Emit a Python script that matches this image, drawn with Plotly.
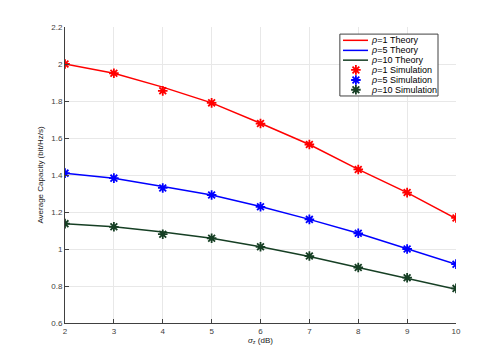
import plotly.graph_objects as go

# Data
sigma_z = [2, 3, 4, 5, 6, 7, 8, 9, 10]

theory_rho1 = [2.0, 1.95, 1.875, 1.79, 1.68, 1.565, 1.43, 1.305, 1.165]
theory_rho5 = [1.41, 1.383, 1.338, 1.292, 1.23, 1.16, 1.085, 1.0, 0.918]
theory_rho10 = [1.137, 1.12, 1.092, 1.058, 1.012, 0.96, 0.9, 0.843, 0.782]

sim_rho1 = [2.0, 1.95, 1.855, 1.79, 1.678, 1.565, 1.43, 1.305, 1.168]
sim_rho5 = [1.41, 1.383, 1.33, 1.292, 1.228, 1.16, 1.085, 1.0, 0.918]
sim_rho10 = [1.137, 1.12, 1.08, 1.058, 1.012, 0.962, 0.9, 0.845, 0.787]

legend_labels = ['<i>ρ</i>=1 Theory', '<i>ρ</i>=5 Theory', '<i>ρ</i>=10 Theory',
                 '<i>ρ</i>=1 Simulation', '<i>ρ</i>=5 Simulation', '<i>ρ</i>=10 Simulation']

red = '#ff0000'
blue = '#0000ff'
green = '#163f24'
colors = [red, blue, green]

xr = [2, 10]
yr = [0.6, 2.2]


def fx(f):
    # fraction of plot width -> x data value
    return xr[0] + f * (xr[1] - xr[0])


def fy(f):
    return yr[0] + f * (yr[1] - yr[0])


traces = []
for vals, col in zip([theory_rho1, theory_rho5, theory_rho10], colors):
    traces.append(go.Scatter(x=sigma_z, y=vals, mode='lines',
                             line=dict(color=col, width=1.5), showlegend=False))
for vals, col in zip([sim_rho1, sim_rho5, sim_rho10], colors):
    traces.append(go.Scatter(
        x=sigma_z, y=vals, mode='markers', showlegend=False,
        marker=dict(symbol='asterisk', size=8, color=col, line=dict(color=col, width=1.8))))

# hand-drawn compact legend (plotly's own legend rows are too tall)
box_x0, box_x1, box_y0, box_y1 = 0.703, 0.954, 0.767, 0.976
row_y = [0.955, 0.921, 0.888, 0.855, 0.821, 0.788]
shapes = [dict(type='rect', xref='x', yref='y', x0=fx(box_x0), x1=fx(box_x1),
               y0=fy(box_y0), y1=fy(box_y1), line=dict(color='#404040', width=1),
               fillcolor='white', layer='between')]
annotations = []
for i, lab in enumerate(legend_labels):
    annotations.append(dict(xref='paper', yref='paper', x=0.777, y=row_y[i],
                            text=lab, showarrow=False, xanchor='left', yanchor='middle',
                            font=dict(size=9, color='#000000')))
for i, col in enumerate(colors):
    shapes.append(dict(type='line', xref='paper', yref='paper', x0=0.711, x1=0.775,
                       y0=row_y[i], y1=row_y[i], line=dict(color=col, width=1.5),
                       layer='above'))
traces.append(go.Scatter(
    x=[fx(0.744)] * 3, y=[fy(v) for v in row_y[3:]], mode='markers',
    showlegend=False, hoverinfo='skip',
    marker=dict(symbol='asterisk', size=8, color=colors,
                line=dict(color=colors, width=1.8))))

# the page body adds an 8px margin, so the figure is made 8px smaller
layout = go.Layout(
    width=483, height=346,
    margin=dict(l=57, r=35, t=19, b=31),
    paper_bgcolor='white', plot_bgcolor='white',
    font=dict(family='Liberation Sans, Arial, sans-serif', size=8, color='#404040'),
    xaxis=dict(range=xr, dtick=1, showgrid=True, gridcolor='#e8e8e8',
               showline=True, linecolor='#404040', linewidth=1, automargin=False,
               ticks='inside', ticklen=4, tickcolor='#404040', zeroline=False,
               title=dict(text='<i>σ</i><sub>z</sub> (dB)', standoff=2,
                          font=dict(size=8, color='#202020'))),
    yaxis=dict(range=yr, dtick=0.2, showgrid=True, gridcolor='#e8e8e8',
               showline=True, linecolor='#404040', linewidth=1, automargin=False,
               ticks='inside', ticklen=4, tickcolor='#404040', zeroline=False,
               title=dict(text='Average Capacity (bit/Hz/s)', standoff=6,
                          font=dict(size=8, color='#202020'))),
    shapes=shapes,
    annotations=annotations,
    showlegend=False,
)

fig = go.Figure(data=traces, layout=layout)
fig.write_html('out.html')
